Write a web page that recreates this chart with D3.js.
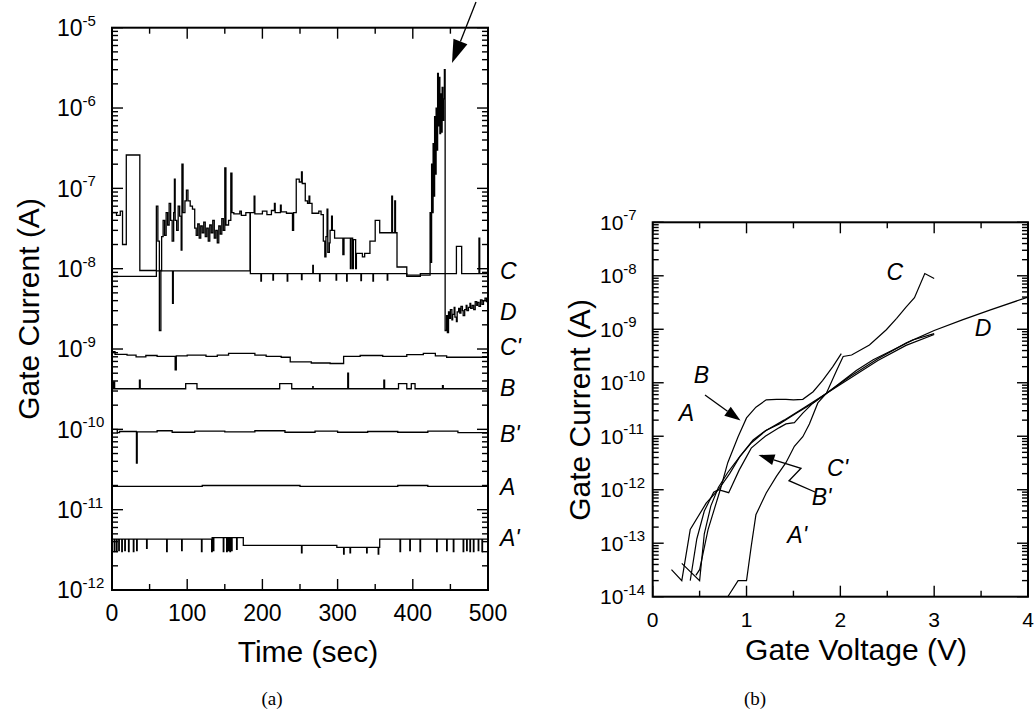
<!DOCTYPE html>
<html>
<head>
<meta charset="utf-8">
<script src="https://cdnjs.cloudflare.com/ajax/libs/d3/7.8.5/d3.min.js"></script>
<style>
  body { margin: 0; background: #fff; }
  svg text { font-family: "Liberation Sans", Arial, Helvetica, sans-serif; fill: #000; }
</style>
</head>
<body>
<div id="chart"></div>
<script>
// Gate current vs time (a) and gate current vs gate voltage (b)

// ---- panel (a) : tick values ----
var timeTicks = [0, 100, 200, 300, 400, 500];
var leftExps = [-5, -6, -7, -8, -9, -10, -11, -12];
var leftLabels = ["C", "D", "C'", "B", "B'", "A", "A'"];
var leftLabelVals = [9.3e-9, 2.9e-9, 1.05e-9, 3.3e-10, 8.7e-11, 1.9e-11, 4.5e-12];

// ---- panel (a) : traces, [time (s), current (A)], held until next point ----
var traceUpper = [[0,5e-8],[6,4.6e-8],[11,5.2e-8],[14,2e-8],[19,2.6e-7],[37,9.5e-9],
  [59,6e-8],[61,2.2e-8],[63,1.7e-9],[65,9.5e-9],[66,2.5e-8],[68,4e-8],[70,2.6e-8],[72,5e-8],
  [74,3.5e-8],[76,6.5e-8],[78,4e-8],[80,2.2e-8],[82,5e-8],[83,1.3e-7],[84,4e-8],[86,3e-8],
  [88,6e-8],[90,4.5e-8],[92,1.7e-8],[93,2e-7],[94.5,5e-8],[97,7e-8],[99,9.5e-8],[101,7e-8],
  [104,6e-8],[107,5.5e-8],[110,3.2e-8],[112,2.6e-8],[114,3.6e-8],[116,2.4e-8],[118,3.4e-8],
  [120,2.8e-8],[122,3.8e-8],[124,2.5e-8],[126,3.2e-8],[128,2.2e-8],[130,3.5e-8],[132,2.8e-8],
  [134,4e-8],[136,2.4e-8],[138,3e-8],[140,2.1e-8],[142,3.4e-8],[144,2.7e-8],[146,4.2e-8],
  [148,3e-8],[150,1.8e-7],[151.5,3.5e-8],[155,4e-8],[158,1.55e-7],[159.5,5e-8],[162,4.8e-8],
  [170,5.2e-8],[172,4.6e-8],[178,5e-8],[189,8e-8],[190,4.8e-8],[200,5.2e-8],[206,4.7e-8],
  [212,5.3e-8],[216,6.5e-8],[217,5e-8],[224,6.2e-8],[225,5.1e-8],[232,4.9e-8],[240,3e-8],
  [241.5,5e-8],[245,1.3e-7],[249,1.2e-7],[252,1.6e-7],[253,1.15e-7],[257,7e-8],[260,6.5e-8],
  [262,8e-8],[263,6.5e-8],[266,4.9e-8],[275,5.2e-8],[278,4.7e-8],[281,2.2e-8],[283,1.4e-8],
  [284.5,2.5e-8],[286,5.5e-8],[287,1.6e-8],[289,2.1e-8],[290,3e-8],[292,4.5e-8],[293,3e-8],
  [296,2.4e-8],[307,1.5e-8],[308.5,2.4e-8],[317,1e-8],[318,2.4e-8],[320,1e-8],[321,2.3e-8],
  [324,1e-8],[325,1.55e-8],[333,1.4e-8],[336,1.55e-8],[343,2.2e-8],[350,4e-8],[356,2.8e-8],
  [372,8e-8],[373,2.8e-8],[376,7e-8],[377,2.8e-8],[379,1.05e-8],[392,8.3e-9],
  [423,5e-8],[424,1.2e-8],[425,2e-7],[426,5e-8],[427,3.6e-7],[428,8e-8],[429,7.8e-7],
  [430,1.5e-7],[431,1e-6],[432,3e-7],[433,2.7e-6],[434,6e-7],[435,2.4e-6],[436,4.8e-7],
  [437,1.5e-6],[438,5e-7],[439,1.8e-6],[440,7e-7],[441,1.3e-6],[442,3e-6],[443,1.7e-9],
  [445,2.6e-9],[446,1.6e-9],[447.5,2.9e-9],[449,2.4e-9],[450,3.1e-9],[452,2.3e-9],[453,2.7e-9],
  [455,3.3e-9],[456,2.5e-9],[458,2.2e-9],[459,2.9e-9],[461,3.2e-9],[462.5,2.8e-9],[464,3.4e-9],
  [466,3e-9],[467,2.6e-9],[469,3.1e-9],[471,3.5e-9],[472,3e-9],[474,3.3e-9],[476,3.7e-9],
  [477,3.2e-9],[479,3.5e-9],[481,3.1e-9],[483,3.9e-9],[485,3.5e-9],[486,3.8e-9],[488,3.4e-9],
  [490,4.1e-9],[492,3.6e-9],[494,4e-9],[496,4.3e-9],[498,3.9e-9],[500,4.2e-9]];

var traceLower = [[0,8e-9],[59,9.4e-9],[80.5,3.7e-9],[81.5,9.4e-9],[183.5,5e-8],[184,8.7e-9],
  [198,7e-9],[198.7,8.7e-9],[214,7.2e-9],[214.7,8.7e-9],[233,7e-9],[233.7,8.7e-9],
  [252,7.3e-9],[252.7,8.7e-9],[267,1.1e-8],[267.7,8.7e-9],[276,7e-9],[276.7,8.7e-9],
  [298,7.2e-9],[298.7,8.7e-9],[312,7e-9],[312.7,8.7e-9],[331,7.1e-9],[331.7,8.7e-9],
  [347,7e-9],[347.7,8.7e-9],[366,7.2e-9],[366.7,8.7e-9],[392,8e-9],[410,8.7e-9],
  [458,1.9e-8],[465,8.7e-9],[488,2.4e-8],[489,8.7e-9],[500,8.7e-9]];

var traceCp = [[0,9.3e-10],[4,8.6e-10],[20,8.4e-10],[32,8e-10],[45,8.3e-10],[60,8.1e-10],
  [84,5.5e-10],[85.5,8.2e-10],[100,8.4e-10],[125,8.1e-10],[140,8.4e-10],[155,8.8e-10],
  [190,8.4e-10],[205,8.1e-10],[225,7.9e-10],[237,6.9e-10],[265,6.7e-10],[290,6.6e-10],
  [308,8.1e-10],[330,8.3e-10],[360,8.1e-10],[392,8.5e-10],[414,8.8e-10],[430,8.2e-10],
  [445,7.9e-10],[500,7.9e-10]];

var traceB = [[0,3.2e-10],[2,3.9e-10],[3.5,3.2e-10],[36.5,4.1e-10],[37.5,3.2e-10],[98,3.7e-10],
  [113,3.2e-10],[223,3.7e-10],[239,3.2e-10],[267,3.4e-10],[267.5,3.2e-10],[313.5,5e-10],
  [314.5,3.2e-10],[361.5,4.1e-10],[362.5,3.2e-10],[381,3.7e-10],[392,3.2e-10],[398,3.7e-10],
  [403,3.2e-10],[439.5,3.5e-10],[440.5,3.2e-10],[500,3.2e-10]];

var traceBp = [[0,1.0e-10],[7,9.1e-11],[10,9.4e-11],[32.5,3.8e-11],[33.5,9.3e-11],[60,9.6e-11],
  [80,9.2e-11],[110,9.5e-11],[150,9.3e-11],[190,9.6e-11],[230,9.2e-11],[270,9.5e-11],
  [300,9.2e-11],[340,9.4e-11],[380,9.2e-11],[420,9.5e-11],[460,9.1e-11],[500,9.1e-11]];

var traceA = [[0,1.95e-11],[120,2e-11],[250,1.95e-11],[380,2e-11],[420,1.95e-11],[500,1.95e-11]];

var traceAp = [[0,4.3e-12],[3,3e-12],[3.7,4.3e-12],[6,3e-12],[6.7,4.3e-12],[9,3.1e-12],
  [9.7,4.3e-12],[13,3e-12],[13.7,4.3e-12],[17,3.1e-12],[17.7,4.3e-12],[22,3e-12],[22.7,4.3e-12],
  [28.4,3e-12],[29.1,4.3e-12],[32.8,3.1e-12],[33.5,4.3e-12],[46,3.3e-12],[46.7,4.3e-12],
  [72.7,3e-12],[73.4,4.3e-12],[92.6,3.1e-12],[93.3,4.3e-12],[119,3e-12],[119.7,4.3e-12],
  [132.5,3e-12],[133.2,4.5e-12],[134.7,3.1e-12],[135.4,4.5e-12],[148,3e-12],[148.7,4.5e-12],
  [152.5,3e-12],[153.2,4.5e-12],[154.7,3.1e-12],[155.4,4.5e-12],[156.9,3e-12],[157.6,4.5e-12],
  [159,3.1e-12],[159.7,4.5e-12],[165.7,3.2e-12],[166.4,4.5e-12],[174.6,3.6e-12],[252,2.9e-12],
  [252.7,3.6e-12],[299,3.4e-12],[308,2.8e-12],[308.7,3.4e-12],[316.5,2.9e-12],[317.2,3.4e-12],
  [338.6,2.9e-12],[339.3,3.4e-12],[354,2.8e-12],[354.7,3.4e-12],[356,4.3e-12],[383,3e-12],
  [383.7,4.3e-12],[396,3.1e-12],[396.7,4.3e-12],[409.6,3e-12],[410.3,4.3e-12],[431.7,3e-12],
  [432.4,4.3e-12],[445,3.1e-12],[445.7,4.3e-12],[453.9,3e-12],[454.6,4.3e-12],[467,3e-12],
  [467.7,4.3e-12],[471.6,3.1e-12],[472.3,4.3e-12],[476,3e-12],[476.7,4.3e-12],[480.6,3e-12],
  [481.3,4.3e-12],[487,3.1e-12],[487.7,4.3e-12],[492,3e-12],[492.7,4.3e-12],[500,4.3e-12]];

// ---- panel (b) : tick values ----
var voltTicks = [0, 1, 2, 3, 4];
var rightExps = [-7, -8, -9, -10, -11, -12, -13, -14];

// ---- panel (b) : curves, [gate voltage (V), current (A)] ----
var curveA = [[0.20,3.2e-14],[0.31,2e-14],[0.40,1.8e-13],[0.57,5.6e-13],[0.70,1e-12],[0.82,2e-12],
  [0.93,4.2e-12],[1.07,8.5e-12],[1.21,1.3e-11],[1.35,1.7e-11],[1.53,2.7e-11],[1.71,4.2e-11],
  [1.85,6.3e-11],[2.0,1e-10],[2.17,1.7e-10],[2.35,2.7e-10],[2.56,4.1e-10],[2.77,6.3e-10],[3.0,8.3e-10]];
var curveD = [[0.31,4.2e-14],[0.50,2e-14],[0.55,1.5e-13],[0.62,5e-13],[0.70,1.1e-12],[0.80,2.1e-12],
  [0.92,4e-12],[1.05,7.5e-12],[1.2,1.25e-11],[1.4,2e-11],[1.6,3.3e-11],[1.85,6.3e-11],[2.1,1.3e-10],
  [2.4,2.8e-10],[2.7,5.5e-10],[3.0,9.5e-10],[3.3,1.5e-9],[3.6,2.3e-9],[4.0,4e-9]];
var curveBp = [[0.40,2e-14],[0.47,1.2e-13],[0.55,4e-13],[0.65,9e-13],[0.70,1e-12],[0.81,8.8e-13],
  [0.92,2.3e-12],[1.05,6e-12],[1.2,1e-11],[1.35,1.45e-11],[1.42,1.7e-11],[1.51,1.8e-11],
  [1.60,2.7e-11],[1.71,4.2e-11],[1.85,6.3e-11],[2.1,1.2e-10],[2.4,2.6e-10],[2.7,5e-10],[3.0,8e-10]];
var curveB = [[0.46,2.5e-14],[0.50,3.2e-14],[0.59,1.8e-13],[0.72,1e-12],[0.80,3.2e-12],[0.91,9.8e-12],
  [1.0,2.2e-11],[1.1,3.5e-11],[1.21,4.8e-11],[1.32,4.9e-11],[1.42,4.9e-11],[1.5,4.8e-11],
  [1.6,4.9e-11],[1.71,6.8e-11],[1.81,1.1e-10],[1.92,2e-10],[2.01,3.5e-10]];
var curveC = [[0.80,1e-14],[0.91,2e-14],[1.0,2e-14],[1.05,8.7e-14],[1.1,3.4e-13],[1.21,8.7e-13],
  [1.32,1.8e-12],[1.42,3.2e-12],[1.51,6.5e-12],[1.60,9.8e-12],[1.67,1.7e-11],[1.76,4.2e-11],
  [1.85,6.3e-11],[1.96,1.7e-10],[2.03,3.1e-10],[2.12,3.3e-10],[2.31,5.1e-10],[2.49,9.8e-10],
  [2.6,1.6e-9],[2.7,2.6e-9],[2.79,3.9e-9],[2.90,1.1e-8],[3.0,8.9e-9]];
var rightLabels = ["C", "D", "B", "A", "C'", "B'", "A'"];
var rightLabelPos = [[2.58,1.2e-8], [3.52,1.05e-9], [0.52,1.4e-10], [0.36,2.7e-11], [1.97,2.6e-12], [1.80,7.3e-13], [1.54,1.4e-13]];

var width = 1035
var height = 711

var svg = d3.select("#chart")
  .append("svg")
    .attr("width", width)
    .attr("height", height)

// scales for both panels
var xTime = d3.scaleLinear().domain([0, 500]).range([112, 488])
var yLeft = d3.scaleLog().domain([1e-12, 1e-5]).range([590, 27.7])
var xVolt = d3.scaleLinear().domain([0, 4]).range([652.7, 1028])
var yRight = d3.scaleLog().domain([1e-14, 1e-7]).range([596.7, 222.3])

// frame, inward ticks and tick labels of one panel
function drawPanel(x, y, xMajor, exps, o) {
  var g = svg.append("g")
  var x0 = x.range()[0], x1 = x.range()[1], y0 = y.range()[0], y1 = y.range()[1]
  var step = xMajor[1] - xMajor[0]

  function tick(ax, ay, bx, by) {
    g.append("line").attr("x1", ax).attr("y1", ay).attr("x2", bx).attr("y2", by)
      .attr("stroke", "#000").attr("stroke-width", 1.4)
  }

  // x ticks top and bottom
  xMajor.forEach(function(v, i) {
    tick(x(v), y0, x(v), y0 - 11)
    tick(x(v), y1, x(v), y1 + 11)
    if (i < xMajor.length - 1) {
      var m = v + step / 2
      tick(x(m), y0, x(m), y0 - 6)
      tick(x(m), y1, x(m), y1 + 6)
    }
    g.append("text").attr("x", x(v)).attr("y", o.xLabelY)
      .attr("text-anchor", "middle").style("font-size", o.fs + "px").text(v)
  })

  // log y ticks left and right
  y.ticks().forEach(function(v) {
    var lg = Math.log10(v)
    var major = Math.abs(lg - Math.round(lg)) < 1e-6
    var len = major ? 11 : 6
    tick(x0, y(v), x0 + len, y(v))
    tick(x1, y(v), x1 - len, y(v))
  })

  exps.forEach(function(e) {
    var t = g.append("text").attr("x", o.yLabelX).attr("y", y(Math.pow(10, e)) + o.fs * 0.36)
      .style("font-size", o.fs + "px")
    t.append("tspan").text("10")
    t.append("tspan").attr("dy", -o.fs * 0.45).style("font-size", o.supFs + "px").text(e)
  })

  g.append("rect")
    .attr("x", x0).attr("y", y1).attr("width", x1 - x0).attr("height", y0 - y1)
    .attr("fill", "none").attr("stroke", "#000").attr("stroke-width", 2)
  return g
}

drawPanel(xTime, yLeft, timeTicks, leftExps, {xLabelY: 621, yLabelX: 57, fs: 23, supFs: 15})
drawPanel(xVolt, yRight, voltTicks, rightExps, {xLabelY: 627, yLabelX: 600, fs: 21, supFs: 15})

// clip traces to the plot areas
var defs = svg.append("defs")
defs.append("clipPath").attr("id", "clipA").append("rect")
  .attr("x", 112).attr("y", 27.7).attr("width", 376).attr("height", 562.3)
defs.append("clipPath").attr("id", "clipB").append("rect")
  .attr("x", 652.7).attr("y", 222.3).attr("width", 375.3).attr("height", 374.4)

// panel (a) traces
var stepLine = d3.line()
  .x(function(d) { return xTime(d[0]) })
  .y(function(d) { return yLeft(d[1]) })
  .curve(d3.curveStepAfter)

var gA = svg.append("g").attr("clip-path", "url(#clipA)")
;[traceLower, traceUpper, traceCp, traceB, traceBp, traceA, traceAp].forEach(function(tr) {
  gA.append("path").attr("d", stepLine(tr))
    .attr("fill", "none").attr("stroke", "#000").attr("stroke-width", 1.3)
    .attr("stroke-linejoin", "miter")
})

// panel (b) curves
var ivLine = d3.line()
  .x(function(d) { return xVolt(d[0]) })
  .y(function(d) { return yRight(d[1]) })

var gB = svg.append("g").attr("clip-path", "url(#clipB)")
;[curveA, curveD, curveBp, curveB, curveC].forEach(function(c) {
  gB.append("path").attr("d", ivLine(c))
    .attr("fill", "none").attr("stroke", "#000").attr("stroke-width", 1.2)
})

// curve labels
leftLabels.forEach(function(l, i) {
  svg.append("text").attr("x", 500).attr("y", yLeft(leftLabelVals[i]) + 8)
    .style("font-size", "23px").style("font-style", "italic").text(l)
})
rightLabels.forEach(function(l, i) {
  svg.append("text").attr("x", xVolt(rightLabelPos[i][0])).attr("y", yRight(rightLabelPos[i][1]) + 8)
    .attr("text-anchor", "middle")
    .style("font-size", "23px").style("font-style", "italic").text(l)
})

// arrows
function arrow(pts, len, hw) {
  var p = pts[pts.length - 1], q = pts[pts.length - 2]
  var dx = p[0] - q[0], dy = p[1] - q[1], d = Math.sqrt(dx * dx + dy * dy)
  var ux = dx / d, uy = dy / d
  var bx = p[0] - ux * len, by = p[1] - uy * len
  svg.append("path").attr("d", d3.line()(pts.slice(0, -1).concat([[bx, by]])))
    .attr("fill", "none").attr("stroke", "#000").attr("stroke-width", 1.3)
  svg.append("path")
    .attr("d", "M" + p[0] + "," + p[1] + "L" + (bx - uy * hw) + "," + (by + ux * hw) +
               "L" + (bx + uy * hw) + "," + (by - ux * hw) + "Z")
    .attr("fill", "#000")
}
arrow([[476, 2], [452, 63]], 23, 7.5)
arrow([[705, 395], [740.5, 420.5]], 16, 5.5)
arrow([[815, 492], [789, 480.7], [801, 468.3], [758.5, 455]], 16, 5.5)

// axis titles
svg.append("text").attr("transform", "translate(39,309) rotate(-90)")
  .attr("text-anchor", "middle").style("font-size", "30px").text("Gate Current (A)")
svg.append("text").attr("x", 308).attr("y", 662)
  .attr("text-anchor", "middle").style("font-size", "30px").text("Time (sec)")
svg.append("text").attr("transform", "translate(590,410) rotate(-90)")
  .attr("text-anchor", "middle").style("font-size", "30px").text("Gate Current (A)")
svg.append("text").attr("x", 856).attr("y", 660)
  .attr("text-anchor", "middle").style("font-size", "30px").text("Gate Voltage (V)")

// panel captions
svg.append("text").attr("x", 272).attr("y", 705).attr("text-anchor", "middle")
  .style("font-family", "'Liberation Serif', 'Times New Roman', serif").style("font-size", "19px").text("(a)")
svg.append("text").attr("x", 755).attr("y", 705).attr("text-anchor", "middle")
  .style("font-family", "'Liberation Serif', 'Times New Roman', serif").style("font-size", "19px").text("(b)")
</script>
</body>
</html>
